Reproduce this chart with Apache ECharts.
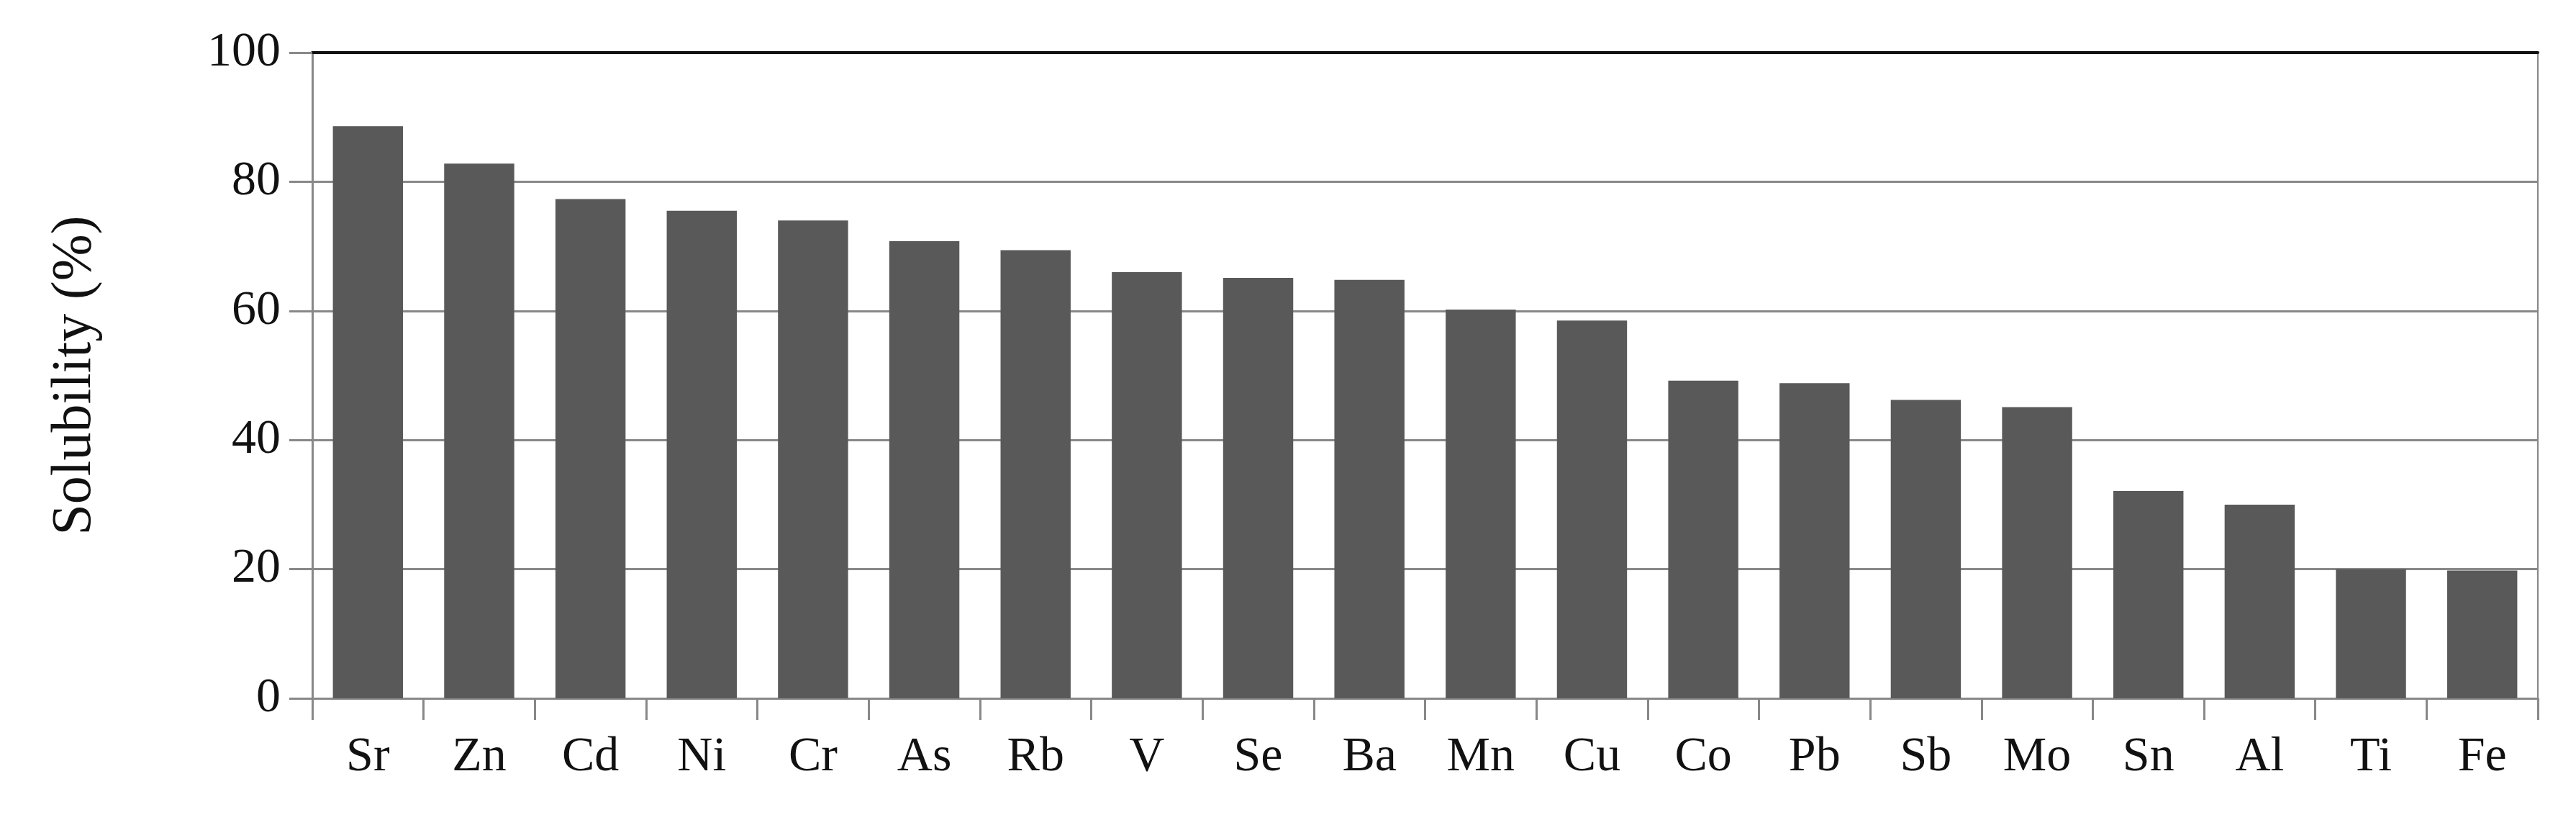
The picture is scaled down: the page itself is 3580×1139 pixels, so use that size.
<!DOCTYPE html>
<html>
<head>
<meta charset="utf-8">
<script src="https://cdn.jsdelivr.net/npm/echarts@6/dist/echarts.min.js"></script>
<style>html,body{margin:0;padding:0;background:#fff}#container1{width:3580px;height:1139px}</style>
</head>
<body>
<div id="container1"></div>
<script>
// 元素及溶解度
var elements = ['Sr', 'Zn', 'Cd', 'Ni', 'Cr', 'As', 'Rb', 'V', 'Se', 'Ba', 'Mn', 'Cu', 'Co', 'Pb', 'Sb', 'Mo', 'Sn', 'Al', 'Ti', 'Fe'];
var solubility = [88.6, 82.8, 77.3, 75.5, 74.0, 70.8, 69.4, 66.0, 65.1, 64.8, 60.2, 58.5, 49.2, 48.8, 46.2, 45.1, 32.1, 30.0, 20.0, 19.8];
var yTicks = [0, 20, 40, 60, 80, 100];

var myChart = echarts.init(document.getElementById("container1"));
var font = 'Liberation Serif';
option = {
    animation: false,
    grid: { left: 434, right: 53, top: 73, bottom: 169, show: true, borderColor: '#888', borderWidth: 2 },
    xAxis: [
        {
            type: 'category',
            data: elements,
            axisLine: { lineStyle: { color: '#888', width: 3 } },
            axisTick: { show: true, length: 30, lineStyle: { color: '#888', width: 3 } },
            axisLabel: { color: '#111', fontFamily: font, fontSize: 68, margin: 48 }
        },
        {
            type: 'category',
            position: 'top',
            data: elements,
            axisLine: { lineStyle: { color: '#111', width: 4 } },
            axisTick: { show: false },
            axisLabel: { show: false }
        }
    ],
    yAxis: {
        type: 'value',
        min: yTicks[0],
        max: yTicks[yTicks.length - 1],
        interval: 20,
        name: 'Solubility (%)',
        nameLocation: 'middle',
        nameGap: 290,
        nameTextStyle: { color: '#111', fontFamily: font, fontSize: 78 },
        axisLine: { show: true, lineStyle: { color: '#888', width: 3 } },
        axisTick: { show: true, length: 32, lineStyle: { color: '#888', width: 3 } },
        splitLine: { lineStyle: { color: '#888', width: 3 } },
        axisLabel: { color: '#111', fontFamily: font, fontSize: 68, margin: 44 }
    },
    series: [
        {
            type: 'bar',
            data: solubility,
            barCategoryGap: '37%',
            itemStyle: { color: '#595959' }
        }
    ]
};
myChart.setOption(option);
</script>
</body>
</html>
